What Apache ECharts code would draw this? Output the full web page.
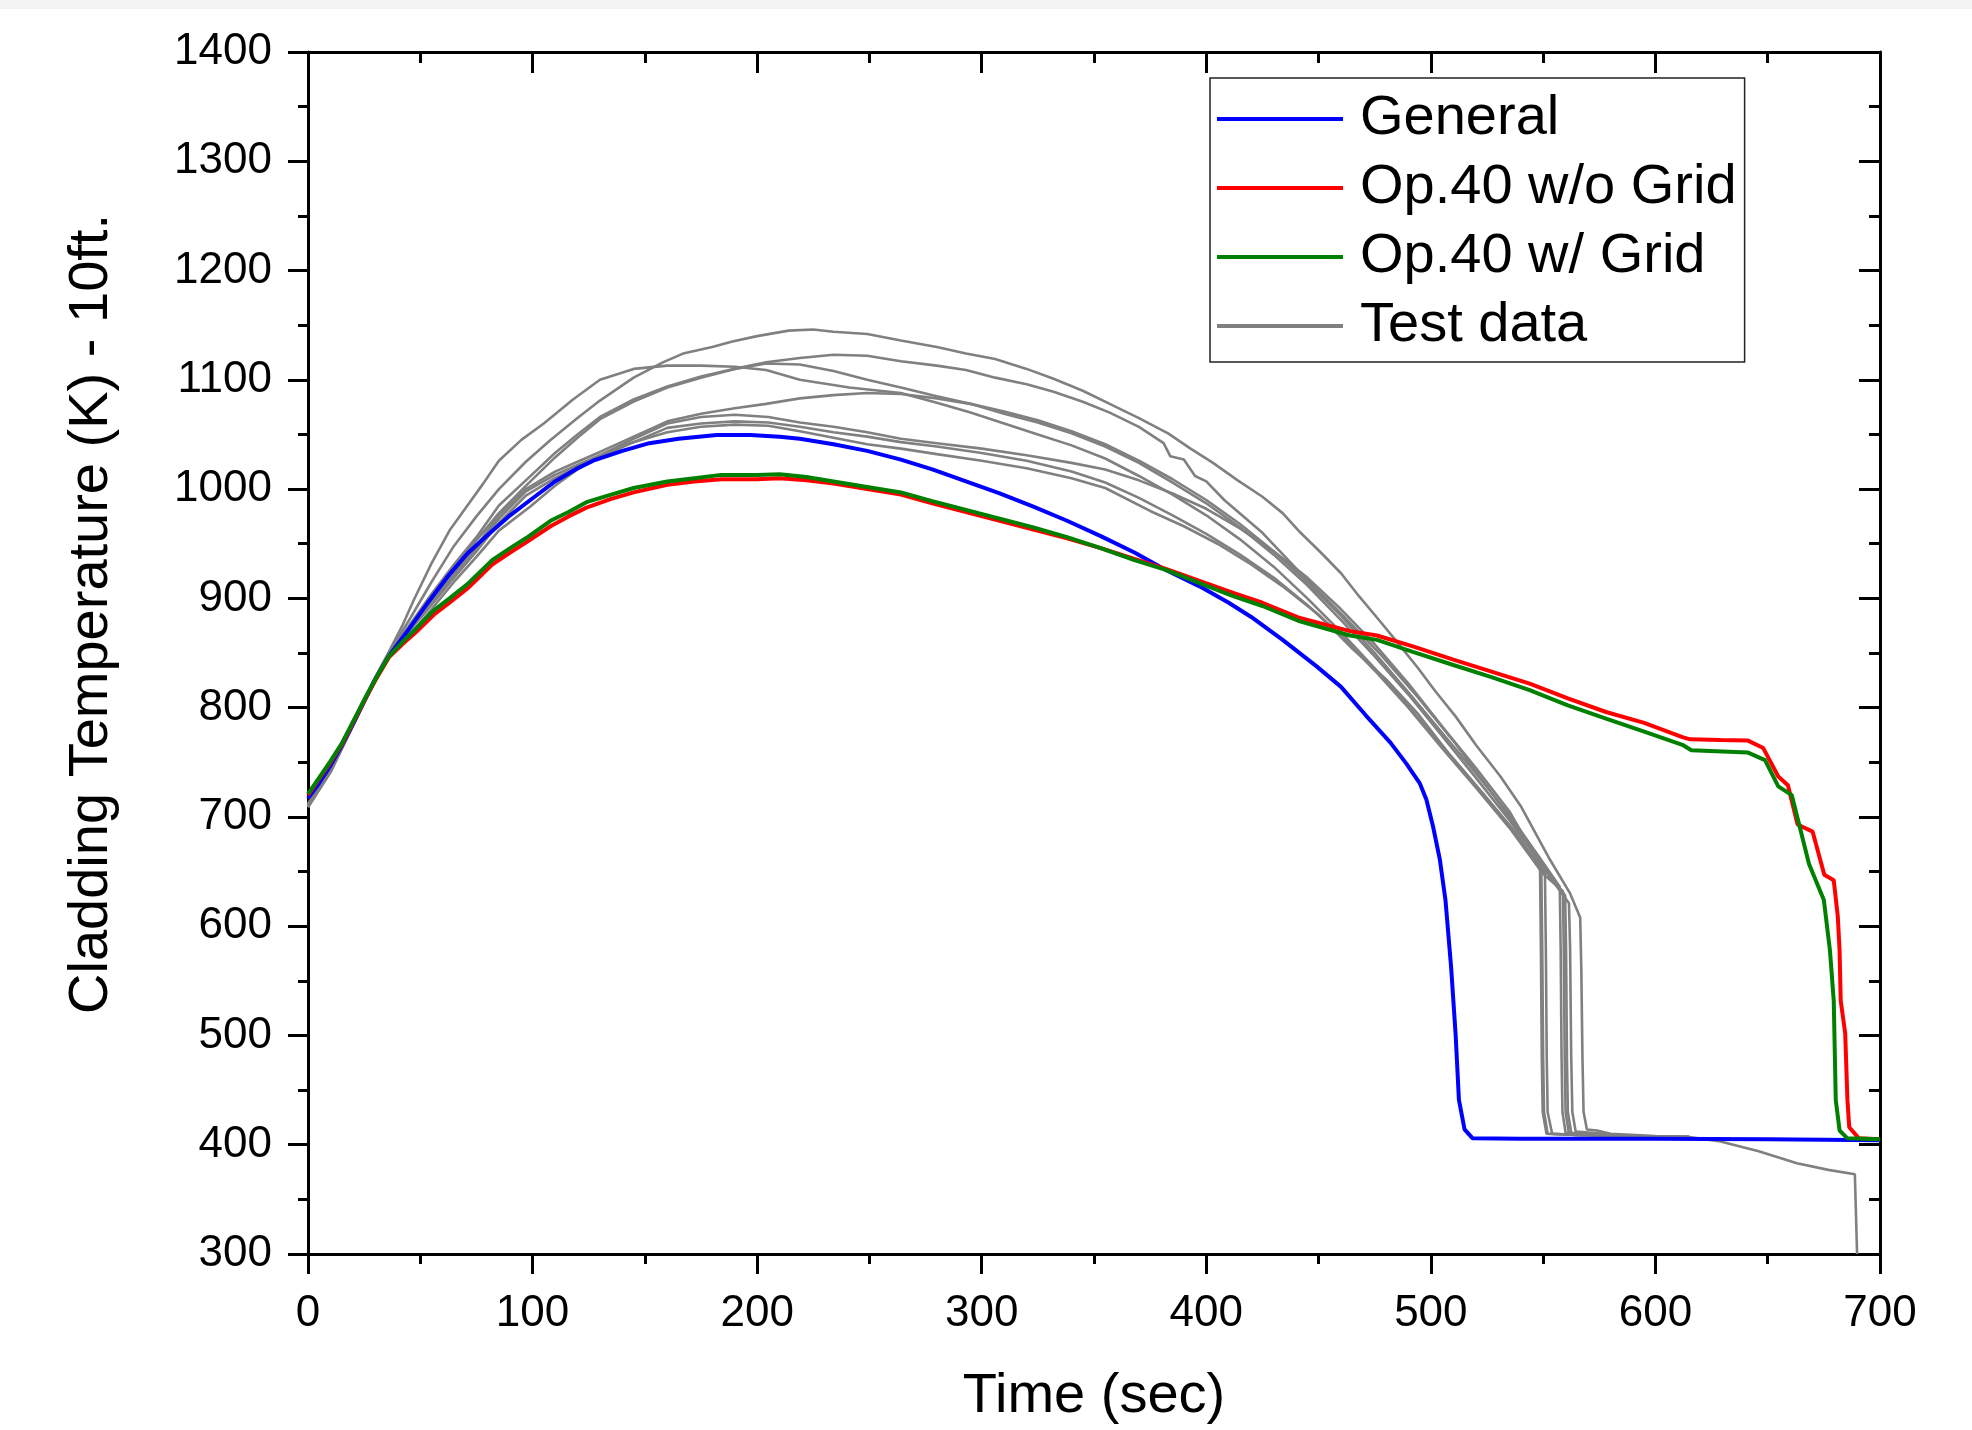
<!DOCTYPE html>
<html>
<head>
<meta charset="utf-8">
<script src="https://cdn.jsdelivr.net/npm/echarts@6/dist/echarts.min.js"></script>
<style>
html,body{margin:0;padding:0;background:#fff;}
#chart{width:1972px;height:1430px;}
</style>
</head>
<body>
<div id="chart"></div>
<script>
// ---- Data (time s, cladding temperature K) ----
const xTicks = [0, 100, 200, 300, 400, 500, 600, 700];
const yTicks = [300, 400, 500, 600, 700, 800, 900, 1000, 1100, 1200, 1300, 1400];
const legendNames = ['General', 'Op.40 w/o Grid', 'Op.40 w/ Grid', 'Test data'];

const general = [[0,717],[5,731],[10,747],[15,765],[20,785],[25,806],[30,826],[36,847],[45,872],[53,895],[63,922],[71,941],[80,958],[90,976],[99,990],[110,1007],[120,1019],[127,1026],[140,1035],[152,1042],[165,1046],[182,1049.5],[197,1049.5],[210,1048],[219,1046],[234,1041],[249,1035],[264,1027],[278,1018],[293,1007],[308,996],[323,984],[338,971],[353,957],[368,942],[382,926],[397,911],[410,896],[420,883],[434,862],[449,838],[460,819],[471,793],[482,768],[489,749],[495,731],[498,716],[501,691],[504,661],[506.5,624],[509,563],[511,502],[512.5,441],[515,414],[518.5,406],[540,405.5],[600,405.5],[650,405],[700,404]];

const opNoGrid = [[0,720],[5,735],[10,750],[15,766],[20,786],[25,806],[30,825],[36,846],[42,858],[48,869],[56,885],[63,896],[71,909],[82,931],[90,942],[97,951],[108,966],[116,975],[124,983],[135,991],[145,997],[160,1004],[172,1007],[184,1009],[200,1009],[210,1010],[222,1008],[234,1005],[249,1000],[264,995],[278,987],[293,979],[308,971],[323,963],[338,955],[353,946],[368,936],[382,927],[397,916],[412,905],[425,896],[441.7,882],[464,870],[476,866],[492,856],[510,844],[527,833],[544,822],[561,808.5],[578,796],[595,786],[612,773],[615.5,771],[629,770.4],[641,770],[648,763],[654.7,737],[659,729],[663.3,693],[670,686.5],[675.2,647],[679.4,642],[681.2,609],[682,578],[682.5,532],[684.5,502],[685.5,441],[686.3,416],[690.5,406],[700,405]];

const opGrid = [[0,721],[5,736],[10,751],[15,767],[20,787],[25,807],[30,826],[36,847],[42,860],[48,872],[56,889],[63,900],[71,913],[82,935],[90,946],[97,955],[108,971],[116,979],[124,988],[135,995],[145,1001],[160,1007],[172,1010],[184,1013],[200,1013],[210,1013.5],[222,1011],[234,1007],[249,1002],[264,997],[278,989],[293,981],[308,973],[323,965],[338,956],[353,946],[368,935],[382,926],[397,914],[412,902],[425,893],[441.7,879],[464,866],[476,862],[492,851],[510,839],[527,828],[544,816],[561,802],[578,790],[595,778],[612,766],[616,761],[641,759],[648.8,752],[654.7,728],[660.7,720],[668.4,657],[675,624],[677.7,578],[679.4,532],[680.3,441],[682,413],[685.4,406],[700,405]];

const test1 = [[0,711],[10,743],[20,786],[30,828],[36,850],[45,880],[55,915],[65,948],[75,975],[85,1000],[97,1025],[108,1045],[120,1065],[130,1081],[145,1102],[158,1116],[167,1124],[180,1130],[189,1135],[200,1140],[214,1145],[225,1146],[234,1144],[249,1142],[264,1136],[280,1130],[293,1124],[306,1119],[320,1110],[332,1101],[345,1090],[357,1078],[370,1065],[383,1051],[393,1037],[403,1024],[414,1008],[425,993],[434,978],[442,960],[451,942],[460,923],[468,902],[477,880],[485,860],[494,837],[502,815],[511,792],[520,766],[531,737],[540,710],[553,661],[562,630],[566.5,608],[567,560],[567.5,480],[568,430],[569.5,414],[574,413],[580,410],[600,408],[615,407],[629,403],[646,394],[663,383],[677,377],[688.8,373],[689.8,300]];
const test2 = [[0,712],[10,744],[20,786],[30,827],[36,849],[45,875],[55,904],[65,931],[75,956],[85,985],[97,1008],[110,1033],[120,1050],[130,1066],[145,1082],[160,1094],[175,1103],[190,1110],[204,1116],[219,1120],[234,1123],[249,1122],[264,1117],[280,1113],[293,1109],[306,1102],[320,1096],[332,1089],[345,1080],[357,1070],[370,1057],[381,1042],[384,1030],[390,1027],[395,1012],[400,1007],[408,990],[425,960],[442,923],[460,886],[477,850],[494,810],[511,767],[525,728],[540,685],[552,648],[561.5,621],[562,580],[562.5,480],[563,430],[564.5,412],[572,411],[590,408],[615,407]];
const test3 = [[0,710],[10,742],[20,786],[30,828],[36,851],[42,875],[47,898],[55,932],[63,962],[71,985],[78,1005],[85,1026],[95,1045],[105,1060],[118,1082],[130,1100],[145,1110],[160,1113],[175,1113],[190,1112],[204,1109],[219,1100],[241,1093],[264,1088],[280,1079],[295,1070],[310,1060],[325,1050],[340,1040],[355,1028],[370,1012],[385,995],[400,976],[415,954],[430,929],[445,900],[460,869],[475,836],[490,801],[505,765],[520,729],[535,692],[550,648],[558.8,632],[559.2,580],[559.6,480],[560,430],[561.5,410],[572,409],[590,408],[615,407]];
const test4 = [[0,709],[10,741],[20,784],[30,826],[36,848],[45,873],[55,902],[65,929],[75,953],[85,978],[97,1003],[110,1029],[120,1047],[130,1064],[145,1080],[160,1093],[175,1102],[190,1110],[204,1115],[219,1114],[234,1108],[249,1100],[264,1093],[280,1085],[295,1078],[310,1069],[325,1061],[340,1051],[355,1039],[370,1024],[385,1006],[400,987],[415,965],[430,940],[445,912],[460,880],[475,847],[490,812],[505,774],[520,736],[535,697],[548,660],[559.8,628],[560.2,580],[560.6,480],[561,430],[562.5,411],[572,410],[590,408],[615,407]];
const test5 = [[0,709],[10,741],[20,784],[30,826],[36,848],[45,872],[55,898],[65,924],[75,948],[85,976],[97,1000],[110,1016],[120,1025],[130,1034],[145,1048],[160,1062],[175,1069],[190,1074],[204,1078],[219,1083],[234,1086],[249,1088],[264,1087],[280,1083],[295,1078],[310,1071],[325,1063],[340,1053],[355,1041],[370,1026],[385,1009],[400,990],[415,968],[430,943],[445,915],[460,884],[475,850],[490,814],[505,777],[520,740],[535,702],[548,664],[557.4,636],[557.8,580],[558.2,480],[558.6,430],[560,411],[572,409],[590,408],[615,407]];
const test6 = [[0,710],[10,742],[20,784],[30,826],[36,848],[45,871],[55,896],[65,922],[75,946],[85,973],[97,998],[110,1013],[120,1022],[130,1031],[145,1046],[160,1060],[175,1066],[190,1068],[205,1066],[219,1061],[234,1057],[249,1052],[264,1046],[280,1042],[300,1037],[320,1031],[340,1024],[355,1018],[370,1008],[385,996],[400,982],[415,964],[430,943],[445,919],[460,890],[475,858],[490,822],[505,783],[520,745],[535,705],[550.8,648],[551.2,580],[551.6,480],[552,430],[554,410],[565,409],[590,408],[615,407]];
const test7 = [[0,711],[10,743],[20,785],[30,826],[36,847],[45,870],[55,894],[65,919],[75,943],[85,969],[97,994],[110,1010],[120,1020],[130,1029],[145,1043],[160,1056],[175,1060],[190,1062],[205,1061],[219,1057],[234,1052],[249,1048],[264,1043],[280,1039],[300,1033],[320,1026],[340,1016],[355,1006],[370,992],[385,976],[400,959],[415,940],[430,919],[445,894],[460,866],[475,834],[490,800],[505,763],[520,727],[535,690],[549.2,650],[549.6,580],[550,480],[550.4,430],[552,410],[565,409],[590,408],[615,407]];
const test8 = [[0,709],[10,741],[20,783],[30,825],[36,846],[45,866],[55,890],[65,915],[75,938],[85,962],[99,984],[110,1003],[120,1018],[127,1027],[140,1040],[160,1052],[175,1057],[190,1059],[205,1058],[219,1053],[234,1047],[249,1041],[264,1037],[280,1032],[300,1026],[320,1019],[340,1010],[355,1001],[375,980],[390,966],[405,950],[420,931],[434,911],[450,885],[464,856],[480,826],[494,795],[508,758],[523,722],[538,685],[548.6,654],[549,580],[549.4,480],[549.8,430],[551.5,410],[565,409],[590,408],[615,407]];
const testSets = [test1, test2, test3, test4, test5, test6, test7, test8];

// ---- Chart ----
const FONT = '"Liberation Sans", Arial, Helvetica, sans-serif';
const chart = echarts.init(document.getElementById('chart'), null, {renderer: 'canvas'});

function axisCommon(min, max, interval) {
  return {
    type: 'value', min: min, max: max, interval: interval,
    splitLine: {show: false},
    axisLine: {show: true, onZero: false, lineStyle: {color: '#000', width: 3}},
  };
}
const plainNum = function (v) { return String(v); };

const series = [];
testSets.forEach(function (d) {
  series.push({
    name: 'Test data', type: 'line', data: d, symbol: 'none', showSymbol: false,
    lineStyle: {color: '#808080', width: 2.6}, itemStyle: {color: '#808080'},
    emphasis: {disabled: true}, z: 2
  });
});
series.push({name: 'General', type: 'line', data: general, symbol: 'none', showSymbol: false,
  lineStyle: {color: '#0000ff', width: 4}, itemStyle: {color: '#0000ff'}, emphasis: {disabled: true}, z: 3});
series.push({name: 'Op.40 w/o Grid', type: 'line', data: opNoGrid, symbol: 'none', showSymbol: false,
  lineStyle: {color: '#ff0000', width: 4}, itemStyle: {color: '#ff0000'}, emphasis: {disabled: true}, z: 3});
series.push({name: 'Op.40 w/ Grid', type: 'line', data: opGrid, symbol: 'none', showSymbol: false,
  lineStyle: {color: '#008000', width: 4}, itemStyle: {color: '#008000'}, emphasis: {disabled: true}, z: 3});

const option = {
  animation: false,
  backgroundColor: '#ffffff',
  grid: {left: 308, top: 52, width: 1572, height: 1202, containLabel: false},
  xAxis: [
    Object.assign(axisCommon(xTicks[0], xTicks[xTicks.length - 1], 100), {
      position: 'bottom',
      axisTick: {show: true, inside: false, length: 20, lineStyle: {color: '#000', width: 3}},
      minorTick: {show: true, splitNumber: 2, length: 10, lineStyle: {color: '#000', width: 3}},
      axisLabel: {show: true, color: '#000', fontSize: 44, fontFamily: FONT, margin: 38, formatter: plainNum},
      name: 'Time (sec)', nameLocation: 'middle', nameGap: 115,
      nameTextStyle: {color: '#000', fontSize: 56, fontFamily: FONT}
    }),
    Object.assign(axisCommon(xTicks[0], xTicks[xTicks.length - 1], 100), {
      position: 'top',
      axisTick: {show: true, inside: true, length: 21, lineStyle: {color: '#000', width: 3}},
      minorTick: {show: true, splitNumber: 2, length: 11, lineStyle: {color: '#000', width: 3}},
      axisLabel: {show: false}
    })
  ],
  yAxis: [
    Object.assign(axisCommon(yTicks[0], yTicks[yTicks.length - 1], 100), {
      position: 'left',
      axisTick: {show: true, inside: false, length: 20, lineStyle: {color: '#000', width: 3}},
      minorTick: {show: true, splitNumber: 2, length: 10, lineStyle: {color: '#000', width: 3}},
      axisLabel: {show: true, color: '#000', fontSize: 44, fontFamily: FONT, margin: 36, formatter: plainNum}
    }),
    Object.assign(axisCommon(yTicks[0], yTicks[yTicks.length - 1], 100), {
      position: 'right',
      axisTick: {show: true, inside: true, length: 21, lineStyle: {color: '#000', width: 3}},
      minorTick: {show: true, splitNumber: 2, length: 11, lineStyle: {color: '#000', width: 3}},
      axisLabel: {show: false}
    })
  ],
  legend: {
    show: true, orient: 'vertical', left: 1210, top: 78,
    padding: [13, 8, 8, 7], itemGap: 13, itemWidth: 126, itemHeight: 4, icon: 'rect',
    backgroundColor: '#ffffff', borderColor: '#222', borderWidth: 1.5,
    selectedMode: false,
    textStyle: {color: '#000', fontSize: 56, fontFamily: FONT, lineHeight: 56, padding: [0, 0, 0, 12]},
    data: legendNames
  },
  graphic: [
    {type: 'rect', silent: true, z: 0, shape: {x: 0, y: 0, width: 1972, height: 9}, style: {fill: '#f3f3f3'}},
    {type: 'text', silent: true, x: 92, y: 614, rotation: Math.PI / 2,
      style: {text: 'Cladding Temperature (K) - 10ft.', fill: '#000', fontSize: 56, fontFamily: FONT,
        align: 'center', verticalAlign: 'middle', textAlign: 'center', textVerticalAlign: 'middle'}}
  ],
  series: series
};
chart.setOption(option);
</script>
</body>
</html>
